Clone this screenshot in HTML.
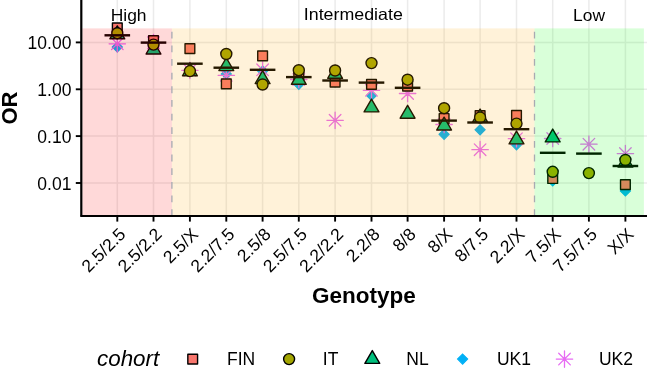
<!DOCTYPE html><html><head><meta charset="utf-8"><style>html,body{margin:0;padding:0;background:#fff;}svg{display:block;filter:blur(0.3px);}text{font-family:"Liberation Sans",sans-serif;}</style></head><body>
<svg width="647" height="368" viewBox="0 0 647 368">
<rect x="0" y="0" width="647" height="368" fill="#fff"/>
<g stroke="#EBEBEB" stroke-width="1.5"><line x1="82.3" y1="42.4" x2="647" y2="42.4"/><line x1="82.3" y1="89.3" x2="647" y2="89.3"/><line x1="82.3" y1="136.1" x2="647" y2="136.1"/><line x1="82.3" y1="183.0" x2="647" y2="183.0"/><line x1="117.3" y1="0" x2="117.3" y2="216.0"/><line x1="153.5" y1="0" x2="153.5" y2="216.0"/><line x1="189.9" y1="0" x2="189.9" y2="216.0"/><line x1="226.3" y1="0" x2="226.3" y2="216.0"/><line x1="262.6" y1="0" x2="262.6" y2="216.0"/><line x1="298.8" y1="0" x2="298.8" y2="216.0"/><line x1="335.1" y1="0" x2="335.1" y2="216.0"/><line x1="371.5" y1="0" x2="371.5" y2="216.0"/><line x1="407.6" y1="0" x2="407.6" y2="216.0"/><line x1="444.1" y1="0" x2="444.1" y2="216.0"/><line x1="480.1" y1="0" x2="480.1" y2="216.0"/><line x1="516.5" y1="0" x2="516.5" y2="216.0"/><line x1="552.7" y1="0" x2="552.7" y2="216.0"/><line x1="588.9" y1="0" x2="588.9" y2="216.0"/><line x1="625.4" y1="0" x2="625.4" y2="216.0"/></g>
<polygon points="117.30,42.00 122.30,47.00 117.30,52.00 112.30,47.00" fill="#00B0F6" stroke="#00B0F6" stroke-width="1.2"/>
<path d="M111.50,38.00L123.10,49.60M111.50,49.60L123.10,38.00M109.10,43.80L125.50,43.80M117.30,35.60L117.30,52.00" stroke="#E76BF3" stroke-width="1.3" stroke-linecap="round" fill="none"/>
<rect x="112.43" y="23.03" width="9.75" height="9.75" fill="#F8766D" stroke="#000" stroke-width="1.4" stroke-linejoin="round"/>
<polygon points="117.30,25.95 124.71,38.78 109.89,38.78" fill="#00BF7D" stroke="#000" stroke-width="1.4" stroke-linejoin="round"/>
<circle cx="117.30" cy="33.20" r="5.50" fill="#A3A500" stroke="#000" stroke-width="1.4"/>
<polygon points="153.50,40.00 158.50,45.00 153.50,50.00 148.50,45.00" fill="#00B0F6" stroke="#00B0F6" stroke-width="1.2"/>
<path d="M147.70,36.90L159.30,48.50M147.70,48.50L159.30,36.90M145.30,42.70L161.70,42.70M153.50,34.50L153.50,50.90" stroke="#E76BF3" stroke-width="1.3" stroke-linecap="round" fill="none"/>
<rect x="148.63" y="35.73" width="9.75" height="9.75" fill="#F8766D" stroke="#000" stroke-width="1.4" stroke-linejoin="round"/>
<polygon points="153.50,41.15 160.91,53.98 146.09,53.98" fill="#00BF7D" stroke="#000" stroke-width="1.4" stroke-linejoin="round"/>
<circle cx="153.50" cy="44.60" r="5.50" fill="#A3A500" stroke="#000" stroke-width="1.4"/>
<polygon points="189.90,66.00 194.90,71.00 189.90,76.00 184.90,71.00" fill="#00B0F6" stroke="#00B0F6" stroke-width="1.2"/>
<path d="M184.10,64.50L195.70,76.10M184.10,76.10L195.70,64.50M181.70,70.30L198.10,70.30M189.90,62.10L189.90,78.50" stroke="#E76BF3" stroke-width="1.3" stroke-linecap="round" fill="none"/>
<rect x="185.03" y="43.73" width="9.75" height="9.75" fill="#F8766D" stroke="#000" stroke-width="1.4" stroke-linejoin="round"/>
<polygon points="189.90,62.95 197.31,75.78 182.49,75.78" fill="#00BF7D" stroke="#000" stroke-width="1.4" stroke-linejoin="round"/>
<circle cx="189.90" cy="71.10" r="5.50" fill="#A3A500" stroke="#000" stroke-width="1.4"/>
<polygon points="226.30,69.00 231.30,74.00 226.30,79.00 221.30,74.00" fill="#00B0F6" stroke="#00B0F6" stroke-width="1.2"/>
<path d="M220.50,69.50L232.10,81.10M220.50,81.10L232.10,69.50M218.10,75.30L234.50,75.30M226.30,67.10L226.30,83.50" stroke="#E76BF3" stroke-width="1.3" stroke-linecap="round" fill="none"/>
<rect x="221.43" y="79.03" width="9.75" height="9.75" fill="#F8766D" stroke="#000" stroke-width="1.4" stroke-linejoin="round"/>
<polygon points="226.30,57.75 233.71,70.58 218.89,70.58" fill="#00BF7D" stroke="#000" stroke-width="1.4" stroke-linejoin="round"/>
<circle cx="226.30" cy="54.00" r="5.50" fill="#A3A500" stroke="#000" stroke-width="1.4"/>
<polygon points="262.60,66.00 267.60,71.00 262.60,76.00 257.60,71.00" fill="#00B0F6" stroke="#00B0F6" stroke-width="1.2"/>
<path d="M256.80,64.00L268.40,75.60M256.80,75.60L268.40,64.00M254.40,69.80L270.80,69.80M262.60,61.60L262.60,78.00" stroke="#E76BF3" stroke-width="1.3" stroke-linecap="round" fill="none"/>
<rect x="257.73" y="51.03" width="9.75" height="9.75" fill="#F8766D" stroke="#000" stroke-width="1.4" stroke-linejoin="round"/>
<polygon points="262.60,70.75 270.01,83.58 255.19,83.58" fill="#00BF7D" stroke="#000" stroke-width="1.4" stroke-linejoin="round"/>
<circle cx="262.60" cy="84.50" r="5.50" fill="#A3A500" stroke="#000" stroke-width="1.4"/>
<polygon points="298.80,79.30 303.80,84.30 298.80,89.30 293.80,84.30" fill="#00B0F6" stroke="#00B0F6" stroke-width="1.2"/>
<path d="M293.00,73.70L304.60,85.30M293.00,85.30L304.60,73.70M290.60,79.50L307.00,79.50M298.80,71.30L298.80,87.70" stroke="#E76BF3" stroke-width="1.3" stroke-linecap="round" fill="none"/>
<rect x="293.93" y="70.13" width="9.75" height="9.75" fill="#F8766D" stroke="#000" stroke-width="1.4" stroke-linejoin="round"/>
<polygon points="298.80,71.45 306.21,84.28 291.39,84.28" fill="#00BF7D" stroke="#000" stroke-width="1.4" stroke-linejoin="round"/>
<circle cx="298.80" cy="70.20" r="5.50" fill="#A3A500" stroke="#000" stroke-width="1.4"/>
<polygon points="335.10,77.00 340.10,82.00 335.10,87.00 330.10,82.00" fill="#00B0F6" stroke="#00B0F6" stroke-width="1.2"/>
<path d="M329.30,114.50L340.90,126.10M329.30,126.10L340.90,114.50M326.90,120.30L343.30,120.30M335.10,112.10L335.10,128.50" stroke="#E76BF3" stroke-width="1.3" stroke-linecap="round" fill="none"/>
<rect x="330.23" y="77.23" width="9.75" height="9.75" fill="#F8766D" stroke="#000" stroke-width="1.4" stroke-linejoin="round"/>
<polygon points="335.10,65.45 342.51,78.28 327.69,78.28" fill="#00BF7D" stroke="#000" stroke-width="1.4" stroke-linejoin="round"/>
<circle cx="335.10" cy="70.50" r="5.50" fill="#A3A500" stroke="#000" stroke-width="1.4"/>
<polygon points="371.50,90.50 376.50,95.50 371.50,100.50 366.50,95.50" fill="#00B0F6" stroke="#00B0F6" stroke-width="1.2"/>
<path d="M365.70,84.50L377.30,96.10M365.70,96.10L377.30,84.50M363.30,90.30L379.70,90.30M371.50,82.10L371.50,98.50" stroke="#E76BF3" stroke-width="1.3" stroke-linecap="round" fill="none"/>
<rect x="366.63" y="79.43" width="9.75" height="9.75" fill="#F8766D" stroke="#000" stroke-width="1.4" stroke-linejoin="round"/>
<polygon points="371.50,99.05 378.91,111.88 364.09,111.88" fill="#00BF7D" stroke="#000" stroke-width="1.4" stroke-linejoin="round"/>
<circle cx="371.50" cy="63.10" r="5.50" fill="#A3A500" stroke="#000" stroke-width="1.4"/>
<polygon points="407.60,80.00 412.60,85.00 407.60,90.00 402.60,85.00" fill="#00B0F6" stroke="#00B0F6" stroke-width="1.2"/>
<path d="M401.80,87.70L413.40,99.30M401.80,99.30L413.40,87.70M399.40,93.50L415.80,93.50M407.60,85.30L407.60,101.70" stroke="#E76BF3" stroke-width="1.3" stroke-linecap="round" fill="none"/>
<rect x="402.73" y="81.23" width="9.75" height="9.75" fill="#F8766D" stroke="#000" stroke-width="1.4" stroke-linejoin="round"/>
<polygon points="407.60,105.35 415.01,118.18 400.19,118.18" fill="#00BF7D" stroke="#000" stroke-width="1.4" stroke-linejoin="round"/>
<circle cx="407.60" cy="79.70" r="5.50" fill="#A3A500" stroke="#000" stroke-width="1.4"/>
<polygon points="444.10,129.30 449.10,134.30 444.10,139.30 439.10,134.30" fill="#00B0F6" stroke="#00B0F6" stroke-width="1.2"/>
<path d="M438.30,118.70L449.90,130.30M438.30,130.30L449.90,118.70M435.90,124.50L452.30,124.50M444.10,116.30L444.10,132.70" stroke="#E76BF3" stroke-width="1.3" stroke-linecap="round" fill="none"/>
<rect x="439.23" y="113.63" width="9.75" height="9.75" fill="#F8766D" stroke="#000" stroke-width="1.4" stroke-linejoin="round"/>
<polygon points="444.10,117.15 451.51,129.98 436.69,129.98" fill="#00BF7D" stroke="#000" stroke-width="1.4" stroke-linejoin="round"/>
<circle cx="444.10" cy="108.20" r="5.50" fill="#A3A500" stroke="#000" stroke-width="1.4"/>
<polygon points="480.10,124.80 485.10,129.80 480.10,134.80 475.10,129.80" fill="#00B0F6" stroke="#00B0F6" stroke-width="1.2"/>
<path d="M474.30,143.90L485.90,155.50M474.30,155.50L485.90,143.90M471.90,149.70L488.30,149.70M480.10,141.50L480.10,157.90" stroke="#E76BF3" stroke-width="1.3" stroke-linecap="round" fill="none"/>
<rect x="475.23" y="110.73" width="9.75" height="9.75" fill="#F8766D" stroke="#000" stroke-width="1.4" stroke-linejoin="round"/>
<polygon points="480.10,109.05 487.51,121.88 472.69,121.88" fill="#00BF7D" stroke="#000" stroke-width="1.4" stroke-linejoin="round"/>
<circle cx="480.10" cy="117.50" r="5.50" fill="#A3A500" stroke="#000" stroke-width="1.4"/>
<polygon points="516.50,139.80 521.50,144.80 516.50,149.80 511.50,144.80" fill="#00B0F6" stroke="#00B0F6" stroke-width="1.2"/>
<path d="M510.70,132.90L522.30,144.50M510.70,144.50L522.30,132.90M508.30,138.70L524.70,138.70M516.50,130.50L516.50,146.90" stroke="#E76BF3" stroke-width="1.3" stroke-linecap="round" fill="none"/>
<rect x="511.63" y="110.53" width="9.75" height="9.75" fill="#F8766D" stroke="#000" stroke-width="1.4" stroke-linejoin="round"/>
<polygon points="516.50,131.05 523.91,143.88 509.09,143.88" fill="#00BF7D" stroke="#000" stroke-width="1.4" stroke-linejoin="round"/>
<circle cx="516.50" cy="123.60" r="5.50" fill="#A3A500" stroke="#000" stroke-width="1.4"/>
<polygon points="552.70,175.90 557.70,180.90 552.70,185.90 547.70,180.90" fill="#00B0F6" stroke="#00B0F6" stroke-width="1.2"/>
<path d="M546.90,132.70L558.50,144.30M546.90,144.30L558.50,132.70M544.50,138.50L560.90,138.50M552.70,130.30L552.70,146.70" stroke="#E76BF3" stroke-width="1.3" stroke-linecap="round" fill="none"/>
<rect x="547.83" y="173.63" width="9.75" height="9.75" fill="#F8766D" stroke="#000" stroke-width="1.4" stroke-linejoin="round"/>
<polygon points="552.70,129.05 560.11,141.88 545.29,141.88" fill="#00BF7D" stroke="#000" stroke-width="1.4" stroke-linejoin="round"/>
<circle cx="552.70" cy="171.80" r="5.50" fill="#A3A500" stroke="#000" stroke-width="1.4"/>
<path d="M583.10,138.40L594.70,150.00M583.10,150.00L594.70,138.40M580.70,144.20L597.10,144.20M588.90,136.00L588.90,152.40" stroke="#E76BF3" stroke-width="1.3" stroke-linecap="round" fill="none"/>
<circle cx="588.90" cy="173.10" r="5.50" fill="#A3A500" stroke="#000" stroke-width="1.4"/>
<polygon points="625.40,186.00 630.40,191.00 625.40,196.00 620.40,191.00" fill="#00B0F6" stroke="#00B0F6" stroke-width="1.2"/>
<path d="M619.60,147.80L631.20,159.40M619.60,159.40L631.20,147.80M617.20,153.60L633.60,153.60M625.40,145.40L625.40,161.80" stroke="#E76BF3" stroke-width="1.3" stroke-linecap="round" fill="none"/>
<rect x="620.53" y="179.73" width="9.75" height="9.75" fill="#F8766D" stroke="#000" stroke-width="1.4" stroke-linejoin="round"/>
<polygon points="625.40,154.25 632.81,167.08 617.99,167.08" fill="#00BF7D" stroke="#000" stroke-width="1.4" stroke-linejoin="round"/>
<circle cx="625.40" cy="160.00" r="5.50" fill="#A3A500" stroke="#000" stroke-width="1.4"/>
<rect x="104.50" y="34.10" width="25.6" height="2.4" fill="#000"/>
<rect x="140.70" y="41.40" width="25.6" height="2.4" fill="#000"/>
<rect x="177.10" y="62.50" width="25.6" height="2.4" fill="#000"/>
<rect x="213.50" y="66.50" width="25.6" height="2.4" fill="#000"/>
<rect x="249.80" y="68.60" width="25.6" height="2.4" fill="#000"/>
<rect x="286.00" y="75.90" width="25.6" height="2.4" fill="#000"/>
<rect x="322.30" y="79.30" width="25.6" height="2.4" fill="#000"/>
<rect x="358.70" y="81.40" width="25.6" height="2.4" fill="#000"/>
<rect x="394.80" y="86.60" width="25.6" height="2.4" fill="#000"/>
<rect x="431.30" y="119.40" width="25.6" height="2.4" fill="#000"/>
<rect x="467.30" y="121.30" width="25.6" height="2.4" fill="#000"/>
<rect x="503.70" y="128.00" width="25.6" height="2.4" fill="#000"/>
<rect x="539.90" y="151.60" width="25.6" height="2.4" fill="#000"/>
<rect x="576.10" y="152.40" width="25.6" height="2.4" fill="#000"/>
<rect x="612.60" y="164.80" width="25.6" height="2.4" fill="#000"/>
<rect x="82.3" y="28.4" width="89.60" height="187.60" fill="#FF0000" fill-opacity="0.15"/>
<rect x="171.9" y="28.4" width="362.60" height="187.60" fill="#FFA500" fill-opacity="0.15"/>
<rect x="534.5" y="28.4" width="109.40" height="187.60" fill="#00FF00" fill-opacity="0.15"/>
<line x1="171.9" y1="216.0" x2="171.9" y2="28.4" stroke="#A8AAB2" stroke-width="1.3" stroke-dasharray="6.8 6.85"/>
<line x1="534.5" y1="216.0" x2="534.5" y2="28.4" stroke="#A8AAB2" stroke-width="1.3" stroke-dasharray="6.8 6.85"/>
<g font-size="16.7" fill="#000" text-anchor="middle">
<text transform="translate(128.6,20.6) scale(1.046,1)" x="0" y="0">High</text>
<text transform="translate(353.3,20.2) scale(1.067,1)" x="0" y="0">Intermediate</text>
<text transform="translate(589.1,20.6) scale(1.045,1)" x="0" y="0">Low</text>
</g>
<line x1="81.3" y1="-2" x2="81.3" y2="215.95" stroke="#000" stroke-width="2.2" stroke-linecap="round"/>
<line x1="81.3" y1="215.95" x2="650" y2="215.95" stroke="#000" stroke-width="2.1" stroke-linecap="round"/>
<line x1="75.8" y1="42.4" x2="81" y2="42.4" stroke="#000" stroke-width="1.9"/>
<text x="71.4" y="49.0" font-size="17.5" text-anchor="end" fill="#000">10.00</text>
<line x1="75.8" y1="89.3" x2="81" y2="89.3" stroke="#000" stroke-width="1.9"/>
<text x="71.4" y="95.9" font-size="17.5" text-anchor="end" fill="#000">1.00</text>
<line x1="75.8" y1="136.1" x2="81" y2="136.1" stroke="#000" stroke-width="1.9"/>
<text x="71.4" y="142.7" font-size="17.5" text-anchor="end" fill="#000">0.10</text>
<line x1="75.8" y1="183.0" x2="81" y2="183.0" stroke="#000" stroke-width="1.9"/>
<text x="71.4" y="189.6" font-size="17.5" text-anchor="end" fill="#000">0.01</text>
<line x1="117.3" y1="216" x2="117.3" y2="221.6" stroke="#000" stroke-width="1.9"/>
<text transform="translate(126.6,235.4) rotate(-45)" font-size="17.5" text-anchor="end" fill="#000">2.5/2.5</text>
<line x1="153.5" y1="216" x2="153.5" y2="221.6" stroke="#000" stroke-width="1.9"/>
<text transform="translate(162.8,235.4) rotate(-45)" font-size="17.5" text-anchor="end" fill="#000">2.5/2.2</text>
<line x1="189.9" y1="216" x2="189.9" y2="221.6" stroke="#000" stroke-width="1.9"/>
<text transform="translate(199.2,235.4) rotate(-45)" font-size="17.5" text-anchor="end" fill="#000">2.5/X</text>
<line x1="226.3" y1="216" x2="226.3" y2="221.6" stroke="#000" stroke-width="1.9"/>
<text transform="translate(235.6,235.4) rotate(-45)" font-size="17.5" text-anchor="end" fill="#000">2.2/7.5</text>
<line x1="262.6" y1="216" x2="262.6" y2="221.6" stroke="#000" stroke-width="1.9"/>
<text transform="translate(271.9,235.4) rotate(-45)" font-size="17.5" text-anchor="end" fill="#000">2.5/8</text>
<line x1="298.8" y1="216" x2="298.8" y2="221.6" stroke="#000" stroke-width="1.9"/>
<text transform="translate(308.1,235.4) rotate(-45)" font-size="17.5" text-anchor="end" fill="#000">2.5/7.5</text>
<line x1="335.1" y1="216" x2="335.1" y2="221.6" stroke="#000" stroke-width="1.9"/>
<text transform="translate(344.4,235.4) rotate(-45)" font-size="17.5" text-anchor="end" fill="#000">2.2/2.2</text>
<line x1="371.5" y1="216" x2="371.5" y2="221.6" stroke="#000" stroke-width="1.9"/>
<text transform="translate(380.8,235.4) rotate(-45)" font-size="17.5" text-anchor="end" fill="#000">2.2/8</text>
<line x1="407.6" y1="216" x2="407.6" y2="221.6" stroke="#000" stroke-width="1.9"/>
<text transform="translate(416.9,235.4) rotate(-45)" font-size="17.5" text-anchor="end" fill="#000">8/8</text>
<line x1="444.1" y1="216" x2="444.1" y2="221.6" stroke="#000" stroke-width="1.9"/>
<text transform="translate(453.4,235.4) rotate(-45)" font-size="17.5" text-anchor="end" fill="#000">8/X</text>
<line x1="480.1" y1="216" x2="480.1" y2="221.6" stroke="#000" stroke-width="1.9"/>
<text transform="translate(489.4,235.4) rotate(-45)" font-size="17.5" text-anchor="end" fill="#000">8/7.5</text>
<line x1="516.5" y1="216" x2="516.5" y2="221.6" stroke="#000" stroke-width="1.9"/>
<text transform="translate(525.8,235.4) rotate(-45)" font-size="17.5" text-anchor="end" fill="#000">2.2/X</text>
<line x1="552.7" y1="216" x2="552.7" y2="221.6" stroke="#000" stroke-width="1.9"/>
<text transform="translate(562.0,235.4) rotate(-45)" font-size="17.5" text-anchor="end" fill="#000">7.5/X</text>
<line x1="588.9" y1="216" x2="588.9" y2="221.6" stroke="#000" stroke-width="1.9"/>
<text transform="translate(598.2,235.4) rotate(-45)" font-size="17.5" text-anchor="end" fill="#000">7.5/7.5</text>
<line x1="625.4" y1="216" x2="625.4" y2="221.6" stroke="#000" stroke-width="1.9"/>
<text transform="translate(634.7,235.4) rotate(-45)" font-size="17.5" text-anchor="end" fill="#000">X/X</text>
<text x="363.85" y="303.0" font-size="22.5" font-weight="bold" text-anchor="middle" fill="#000">Genotype</text>
<text transform="translate(17.0,108) rotate(-90)" font-size="22" font-weight="bold" text-anchor="middle" fill="#000">OR</text>
<text x="97.0" y="366" font-size="22.4" font-style="italic" fill="#000">cohort</text>
<rect x="187.83" y="354.23" width="9.75" height="9.75" fill="#F8766D" stroke="#000" stroke-width="1.4" stroke-linejoin="round"/>
<circle cx="289.10" cy="359.10" r="5.50" fill="#A3A500" stroke="#000" stroke-width="1.4"/>
<polygon points="372.30,350.55 379.71,363.38 364.89,363.38" fill="#00BF7D" stroke="#000" stroke-width="1.4" stroke-linejoin="round"/>
<polygon points="462.60,354.10 467.60,359.10 462.60,364.10 457.60,359.10" fill="#00B0F6" stroke="#00B0F6" stroke-width="1.2"/>
<path d="M558.70,353.30L570.30,364.90M558.70,364.90L570.30,353.30M556.30,359.10L572.70,359.10M564.50,350.90L564.50,367.30" stroke="#E76BF3" stroke-width="1.3" stroke-linecap="round" fill="none"/>
<g font-size="17.5" fill="#000">
<text x="227.0" y="365">FIN</text>
<text x="322.8" y="365">IT</text>
<text x="406.3" y="365">NL</text>
<text x="496.9" y="365">UK1</text>
<text x="598.9" y="365">UK2</text>
</g>
</svg></body></html>
